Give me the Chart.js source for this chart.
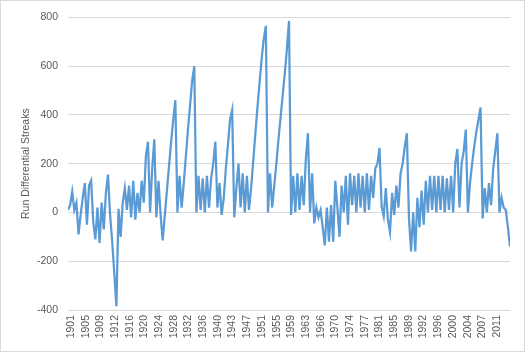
<!DOCTYPE html>
<html>
<head>
<meta charset="utf-8">
<script src="https://cdn.jsdelivr.net/npm/chart.js@4"></script>
<style>
  body { margin: 0; background: #fff; }
  #wrap { width: 525px; height: 352px; box-sizing: border-box; border: 1px solid #d9d9d9; }
  canvas { display: block; }
</style>
</head>
<body>
<div id="wrap"><canvas id="myChart" width="523" height="350"></canvas></div>
<script>
// tick labels shown under the x axis
const tickLabels = ["1901", "1905", "1909", "1912", "1916", "1920", "1924", "1928", "1932", "1936",
  "1940", "1943", "1947", "1951", "1955", "1959", "1963", "1966", "1970", "1974",
  "1977", "1981", "1985", "1989", "1992", "1996", "2000", "2004", "2007", "2011"];

const yTicks = [-400, -200, 0, 200, 400, 600, 800];

// run differential streak values left to right
const streaks = [
  10, 30, 85, 10, 40, -90, -10, 60, 120, -50,
  110, 130, -40, -110, 20, -125, 40, -70, 80, 155,
  -10, -120, -250, -385, 15, -100, 40, 100, 10, 110,
  -20, 130, -30, 80, 0, 130, 40, 230, 290, 0,
  180, 300, -20, 130, -10, -115, -10, 90, 190, 290,
  380, 460, 0, 150, 20, 120, 230, 340, 440, 540,
  600, 0, 150, 10, 140, 0, 150, 20, 140, 200,
  290, 20, 120, -10, 60, 180, 280, 380, 420, -20,
  100, 200, 20, 160, 0, 150, 10, 100, 210, 320,
  430, 530, 630, 710, 765, 0, 160, 20, 110, 200,
  300, 390, 480, 570, 670, 785, -10, 150, 0, 160,
  10, 150, 30, 220, 325, 0, 160, -45, 20, -20,
  10, -60, -135, 20, -120, 30, -120, 130, 20, -100,
  110, 0, 150, -50, 160, 30, 150, 0, 160, 20,
  150, 0, 160, 10, 150, 60, 180, 200, 265, 25,
  -15, 100, -30, -80, 80, -10, 110, 20, 160, 200,
  270, 325, -25, -160, 0, -160, 60, -60, 90, -50,
  130, 0, 150, 10, 150, 0, 150, 10, 150, 0,
  140, 10, 150, 0, 200, 260, 20, 200, 250, 340,
  0, 120, 200, 270, 330, 380, 430, -25, 100, 0,
  120, 30, 180, 250, 325, 0, 60, 20, 10, -60,
  -140
];

Chart.defaults.font.family = "'Liberation Sans', Arial, sans-serif";
Chart.defaults.font.size = 10.5;
Chart.defaults.color = "#595959";

const ctx = document.getElementById("myChart");
new Chart(ctx, {
  type: "line",
  data: {
    datasets: [
      {
        label: "Run Differential Streaks",
        data: streaks.map((v, i) => ({ x: i, y: v })),
        borderColor: "#5b9bd5",
        borderWidth: 2.25,
        pointRadius: 0,
        tension: 0,
        fill: false,
      },
    ],
  },
  options: {
    responsive: false,
    animation: false,
    devicePixelRatio: 1,
    layout: { padding: { top: 13, right: 14, left: 0, bottom: 0 } },
    plugins: { legend: { display: false }, tooltip: { enabled: false } },
    scales: {
      x: {
        type: "linear",
        min: 0,
        max: streaks.length - 1,
        grid: { display: false, drawTicks: false },
        border: { display: false },
        afterBuildTicks: (scale) => {
          scale.ticks = tickLabels.map((t, k) => ({ value: 1.4 + k * 6.98 }));
        },
        afterFit: (scale) => { scale.height = 41; },
        ticks: {
          autoSkip: false,
          maxRotation: 90,
          minRotation: 90,
          padding: 5,
          callback: (value, index) => tickLabels[index],
        },
      },
      y: {
        min: yTicks[0],
        max: yTicks[yTicks.length - 1],
        afterBuildTicks: (scale) => {
          scale.ticks = yTicks.map((v) => ({ value: v }));
        },
        afterFit: (scale) => { scale.width = 67; },
        grid: { color: "#d9d9d9", drawTicks: false },
        border: { display: false },
        ticks: { padding: 10 },
        title: {
          display: true,
          text: "Run Differential Streaks",
          color: "#595959",
          font: { size: 10.5 },
          padding: { top: 19, bottom: 0 },
        },
      },
    },
  },
});
</script>
</body>
</html>
